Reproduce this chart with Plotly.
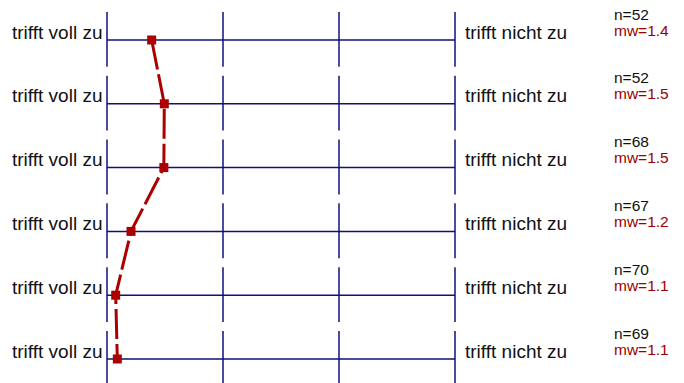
import plotly.graph_objects as go

left_labels = ["trifft voll zu"] * 6
right_labels = ["trifft nicht zu"] * 6
n_values = [52, 52, 68, 67, 70, 69]
mw_values = [1.385, 1.494, 1.49, 1.207, 1.075, 1.089]
scale_ticks = [1, 2, 3, 4]

rows = list(range(len(n_values)))

fig = go.Figure()

# horizontal lines
hx, hy = [], []
for r in rows:
    hx += [scale_ticks[0], scale_ticks[-1], None]
    hy += [r, r, None]
fig.add_trace(go.Scatter(x=hx, y=hy, mode="lines", line=dict(color="#10107a", width=1.5),
                         hoverinfo="skip", showlegend=False))
# vertical tick segments
vx, vy = [], []
for r in rows:
    for t in scale_ticks:
        vx += [t, t, None]
        vy += [r - 0.44, r + 0.42, None]
fig.add_trace(go.Scatter(x=vx, y=vy, mode="lines", line=dict(color="#10107a", width=1.5),
                         hoverinfo="skip", showlegend=False))

# profile line
fig.add_trace(go.Scatter(x=mw_values, y=rows, mode="lines+markers",
                         line=dict(color="#aa0000", width=3, dash="30px,5px"),
                         marker=dict(symbol="square", size=9, color="#aa0000"),
                         hoverinfo="skip", showlegend=False))

ann = []
for r in rows:
    ann.append(dict(x=scale_ticks[0], y=r, xref="x", yref="y", text=left_labels[r],
                    showarrow=False, xanchor="right", yanchor="middle", xshift=-3, yshift=8,
                    font=dict(size=19, color="#111111")))
    ann.append(dict(x=scale_ticks[-1], y=r, xref="x", yref="y", text=right_labels[r],
                    showarrow=False, xanchor="left", yanchor="middle", xshift=7.5, yshift=8,
                    font=dict(size=19, color="#111111")))
    ann.append(dict(x=scale_ticks[-1], y=r, xref="x", yref="y", text=f"n={n_values[r]}",
                    showarrow=False, xanchor="left", yanchor="middle", xshift=157, yshift=26,
                    font=dict(size=15.5, color="#111111")))
    ann.append(dict(x=scale_ticks[-1], y=r, xref="x", yref="y", text=f"mw={mw_values[r]:.1f}",
                    showarrow=False, xanchor="left", yanchor="middle", xshift=157, yshift=10,
                    font=dict(size=15.5, color="#990000")))

fig.update_layout(
    width=684, height=383,
    margin=dict(l=0, r=0, t=0, b=0),
    paper_bgcolor="white", plot_bgcolor="white",
    font=dict(family="Liberation Sans, Arial, sans-serif"),
    xaxis=dict(range=[1 - 107 / 116, 1 + 577 / 116], visible=False, fixedrange=True),
    yaxis=dict(range=[(383 - 40) / 63.8, -40 / 63.8], visible=False, fixedrange=True),
    annotations=ann,
)

fig.write_html("out.html", config={"displayModeBar": False},
               post_script="document.body.style.margin='0';")
